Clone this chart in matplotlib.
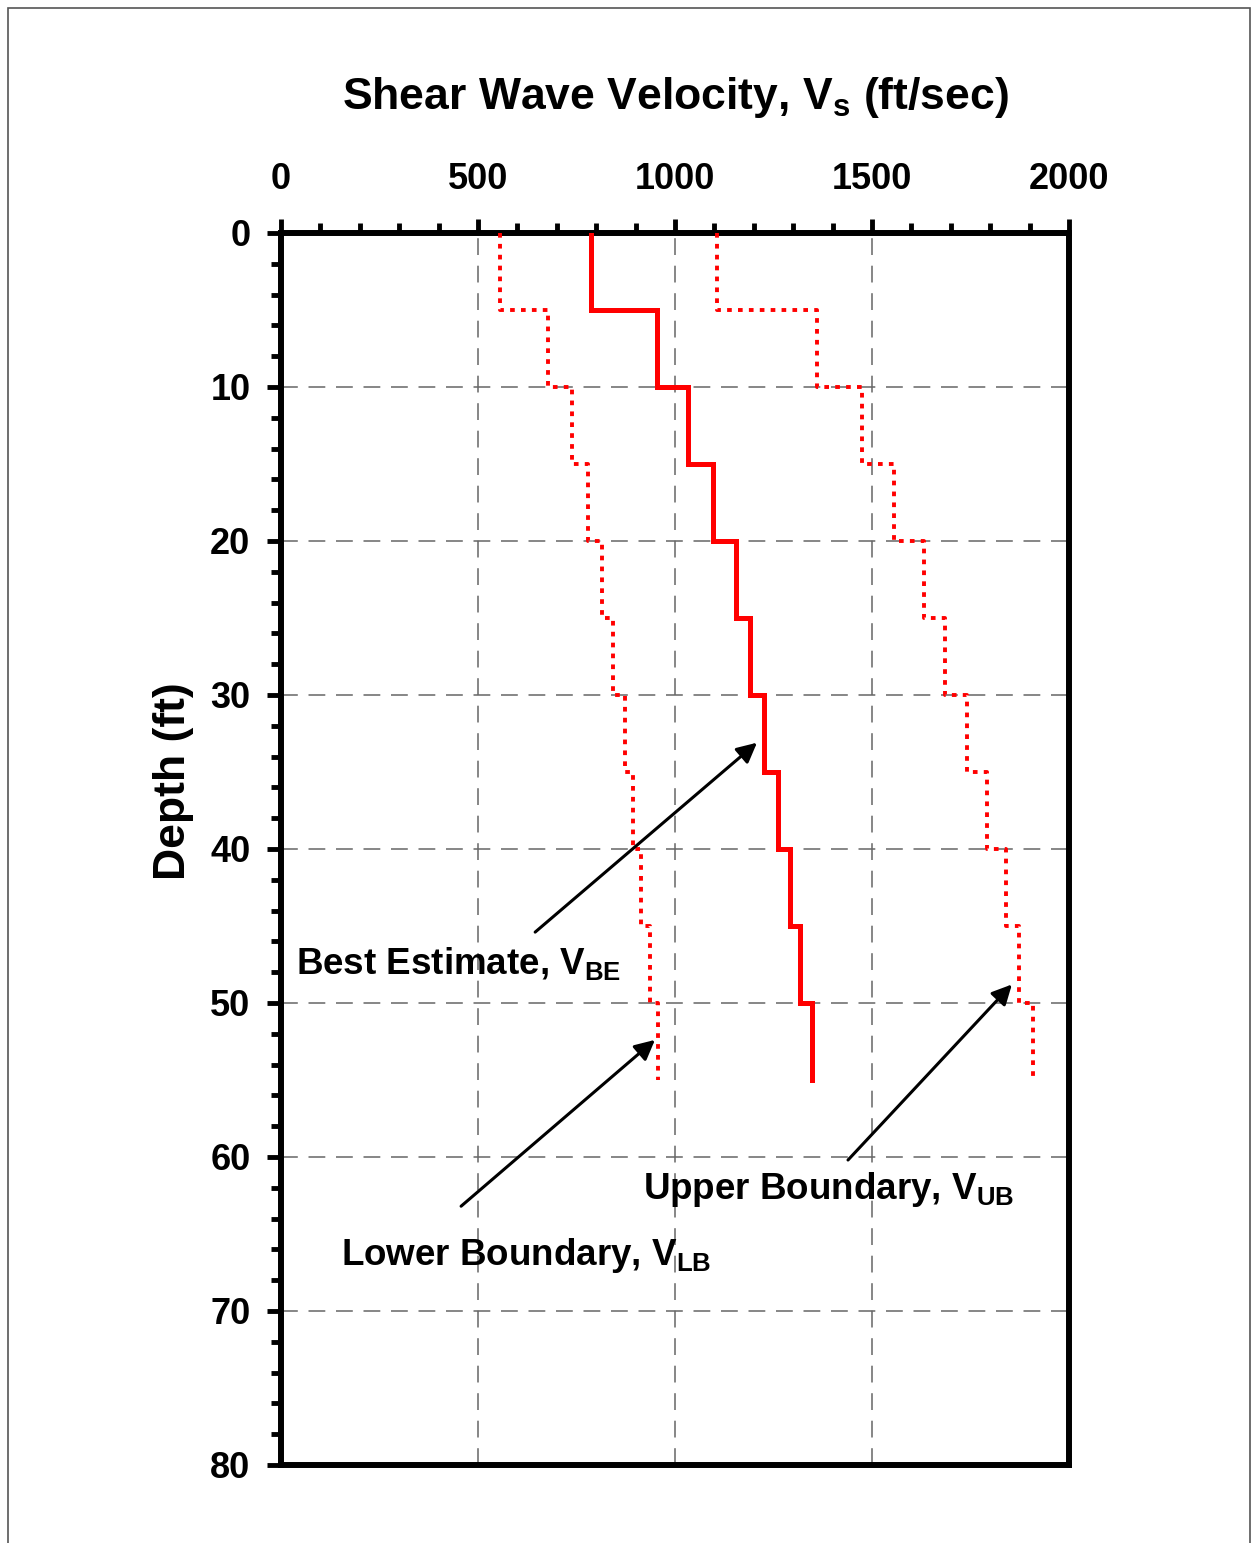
import numpy as np
import matplotlib
matplotlib.use('Agg')
from matplotlib import pyplot as plt
from matplotlib.patches import Rectangle

plt.rcParams['font.family'] = ['Liberation Sans', 'DejaVu Sans']
plt.rcParams['font.weight'] = 'bold'
plt.rcParams['mathtext.fontset'] = 'custom'
plt.rcParams['mathtext.rm'] = 'Liberation Sans'
plt.rcParams['mathtext.bf'] = 'Liberation Sans:bold'

#layer boundaries (ft) and shear wave velocities (ft/sec) for each 5 ft layer
depthTop = [0, 5, 10, 15, 20, 25, 30, 35, 40, 45, 50]
depthBottom = [5, 10, 15, 20, 25, 30, 35, 40, 45, 50, 55]
bestEstimate = [787, 954, 1033, 1096, 1155, 1190, 1226, 1261, 1292, 1317, 1348]
lowerBound = [556, 678, 739, 779, 815, 843, 873, 893, 914, 937, 957]
upperBound = [1107, 1360, 1475, 1556, 1632, 1685, 1741, 1792, 1840, 1873, 1909]

def step_profile(top, bottom, vel):
    """Turn layer values into x, y arrays for a stepped profile."""
    ys = np.column_stack([top, bottom]).ravel()
    xs = np.repeat(vel, 2)
    return xs, ys

fig = plt.figure(figsize=(12.54, 15.43), dpi=100)
ax = fig.add_axes([0.2241, 0.0506, 0.6284, 0.7984])

x, y = step_profile(depthTop, depthBottom, bestEstimate)
ax.plot(x, y, '-', color='#ff0000', lw=3.6, solid_joinstyle='miter', zorder=3)
x, y = step_profile(depthTop, depthBottom, lowerBound)
ax.plot(x, y, color='#ff0000', lw=2.8, linestyle=(0, (1.2, 1.6)), zorder=3)
x, y = step_profile(depthTop, depthBottom, upperBound)
ax.plot(x, y, color='#ff0000', lw=2.8, linestyle=(0, (1.2, 1.6)), zorder=3)

ax.set_xlim(0, 2000)
ax.set_ylim(80, 0)
ax.xaxis.tick_top()
ax.xaxis.set_label_position('top')
ax.set_xticks(np.arange(0, 2001, 500))
ax.set_xticks(np.arange(0, 2001, 100), minor=True)
ax.set_yticks(np.arange(0, 81, 10))
ax.set_yticks(np.arange(0, 81, 2), minor=True)
ax.tick_params(which='major', direction='out', length=10, width=3.5, labelsize=26, pad=16)
ax.tick_params(which='minor', direction='out', length=7, width=3.5)
ax.tick_params(axis='y', which='major', pad=12)
for lab in ax.get_xticklabels() + ax.get_yticklabels():
    lab.set_fontweight('bold')
for sp in ax.spines.values():
    sp.set_linewidth(4.3)
ax.grid(True, which='major', color='#666666', linestyle=(0, (11, 7)), lw=1.1)

ax.set_xlabel(r'Shear Wave Velocity, V$_\mathregular{s}$ (ft/sec)', fontsize=32,
              fontweight='bold', labelpad=38)
ax.set_ylabel('Depth (ft)', fontsize=32, fontweight='bold')
ax.yaxis.set_label_coords(-0.11, 0.555)

#annotations with arrows
arrowProps = dict(arrowstyle='-|>', color='black', lw=2.2, mutation_scale=30,
                  shrinkA=0, shrinkB=0)
ax.annotate('', xy=(1208, 33.1), xytext=(645, 45.4), arrowprops=arrowProps)
ax.annotate('', xy=(949, 52.4), xytext=(457, 63.2), arrowprops=arrowProps)
ax.annotate('', xy=(1855, 48.8), xytext=(1439, 60.2), arrowprops=arrowProps)
ax.text(38, 47.5, r'Best Estimate, V$_\mathregular{BE}$', fontsize=26.5, fontweight='bold',
        va='center', ha='left')
ax.text(152, 66.4, r'Lower Boundary, V$_\mathregular{LB}$', fontsize=26.5, fontweight='bold',
        va='center', ha='left')
ax.text(919, 62.1, r'Upper Boundary, V$_\mathregular{UB}$', fontsize=26.5, fontweight='bold',
        va='center', ha='left')

#thin frame around the whole picture
fig.patches.append(Rectangle((8 / 1254, -0.01), 1242 / 1254, 1.01 - 8 / 1543,
                             transform=fig.transFigure, fill=False,
                             edgecolor='#555555', lw=1.2))

plt.savefig('out.png', dpi=100)
